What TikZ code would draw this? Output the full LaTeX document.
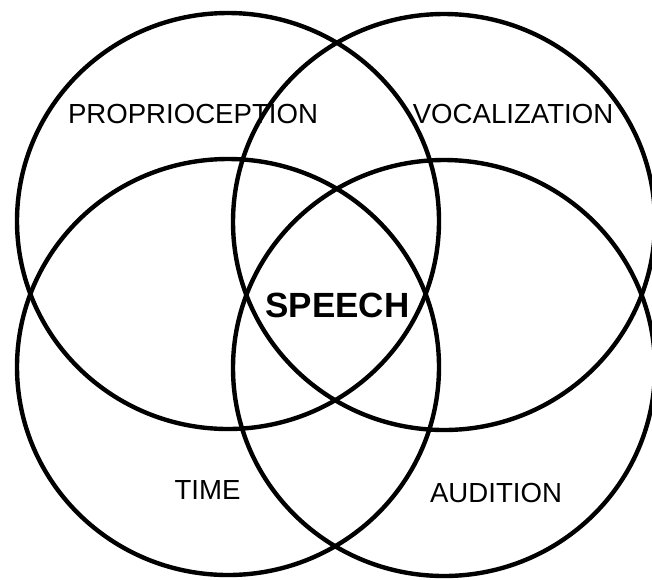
\documentclass[tikz,border=0pt]{standalone}
\usepackage{fontspec}
\setmainfont{Liberation Sans}
\usepackage{tikz}
\tikzset{
  ring/.style={draw, line width=4.4pt},
  sense/.style={inner sep=0pt, font=\fontsize{27.6}{30}\selectfont},
  core/.style={inner sep=0pt, font=\fontsize{35}{38}\selectfont\bfseries},
}

\begin{document}
\begin{tikzpicture}[x=1pt, y=-1pt]
  \useasboundingbox (0,0) rectangle (652,579);
  % Vier Kreise
  \draw[ring] (228,221) ellipse[x radius=211, y radius=208];
  \draw[ring] (444,222) ellipse[x radius=211, y radius=208];
  \draw[ring] (228,367) ellipse[x radius=211, y radius=208];
  \draw[ring] (444,368) ellipse[x radius=211, y radius=208];
  % Beschriftungen
  \node[sense] (prop) at (193,114) {PROPRIOCEPTION};
  \node[sense] (voc) at (513,114) {VOCALIZATION};
  \node[sense] (time) at (207.5,490) {TIME};
  \node[sense] (aud) at (496,493) {AUDITION};
  \node[core] (speech) at (337.5,305.5) {SPEECH};
\end{tikzpicture}
\end{document}
